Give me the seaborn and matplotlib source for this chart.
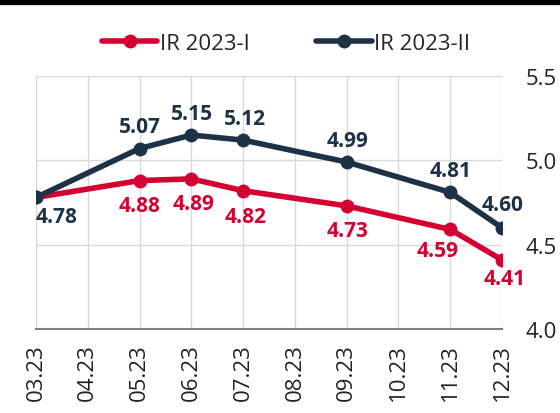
import numpy as np
import pandas as pd
import matplotlib
matplotlib.use("Agg")
import matplotlib.pyplot as plt
import seaborn as sns
from matplotlib.lines import Line2D

months = ["03.23", "04.23", "05.23", "06.23", "07.23", "08.23", "09.23", "10.23", "11.23", "12.23"]
ir_2023_1 = [4.78, np.nan, 4.88, 4.89, 4.82, np.nan, 4.73, np.nan, 4.59, 4.41]
ir_2023_2 = [4.78, np.nan, 5.07, 5.15, 5.12, np.nan, 4.99, np.nan, 4.81, 4.60]
series_names = ["IR 2023-I", "IR 2023-II"]
colors = ["#d50032", "#1d3246"]

# label offsets in pixels (dx, dy), dy positive = up
offs_1 = [None, None, (0, -25), (2, -25), (2, -26), None, (1, -25), None, (-13, -21), (3, -19)]
offs_2 = [(21, -19), None, (0, 22), (1, 22), (2, 22), None, (1, 22), None, (0, 22), (1, 23)]

sns.set_style("white")
plt.rcParams["font.family"] = ["Open Sans", "DejaVu Sans"]

df = pd.DataFrame({"x": list(range(len(months))) * 2,
                   "value": ir_2023_1 + ir_2023_2,
                   "series": [series_names[0]] * len(months) + [series_names[1]] * len(months)})
df = df.dropna()

fig = plt.figure(figsize=(5.6, 4.14), dpi=100)
ax = fig.add_axes([36 / 560, 1 - 330 / 414, 466 / 560, 253 / 414])

sns.lineplot(data=df, x="x", y="value", hue="series", palette=colors, ax=ax,
             marker="o", markersize=10, markeredgewidth=0, linewidth=4, legend=False)

ax.set_xlim(0, len(months) - 1)
ax.set_ylim(4.0, 5.5)
ax.set_xticks(range(len(months)))
ax.set_xticklabels(months, rotation=90, fontsize=16, color="#222222")
ax.set_yticks([4.0, 4.5, 5.0, 5.5])
ax.set_yticklabels(["4.0", "4.5", "5.0", "5.5"], fontsize=16, color="#222222")
ax.yaxis.tick_right()
ax.tick_params(axis="y", length=0, pad=17)
ax.tick_params(axis="x", length=0, pad=10)
ax.set_xlabel("")
ax.set_ylabel("")
ax.grid(True, color="#d9d9d9", linewidth=1)
for s in ["top", "left", "right"]:
    ax.spines[s].set_visible(False)
ax.spines["bottom"].set_color("#7f7f7f")
ax.spines["bottom"].set_linewidth(1.5)
ax.set_axisbelow(True)

for vals, offs, c in [(ir_2023_1, offs_1, colors[0]), (ir_2023_2, offs_2, colors[1])]:
    for i, (v, o) in enumerate(zip(vals, offs)):
        if o is None or np.isnan(v):
            continue
        ax.annotate(f"{v:.2f}", (i, v), xytext=o, textcoords="offset pixels",
                    ha="center", va="center", fontsize=15, fontweight="bold",
                    color=c, annotation_clip=False)

handles = [Line2D([], [], color=c, linewidth=4, marker="o", markersize=10,
                  markeredgewidth=0) for c in colors]
fig.legend(handles, series_names, loc="center", bbox_to_anchor=(286 / 560, 1 - 44 / 414),
           ncol=2, frameon=False, fontsize=16, handlelength=2.5, handletextpad=0.1,
           columnspacing=3.0)

# thick rule at the top of the figure
fig.add_artist(Line2D([0, 1], [1 - 3 / 414, 1 - 3 / 414], color="black", linewidth=4.5,
                      transform=fig.transFigure))

fig.savefig("out.png", dpi=100)
